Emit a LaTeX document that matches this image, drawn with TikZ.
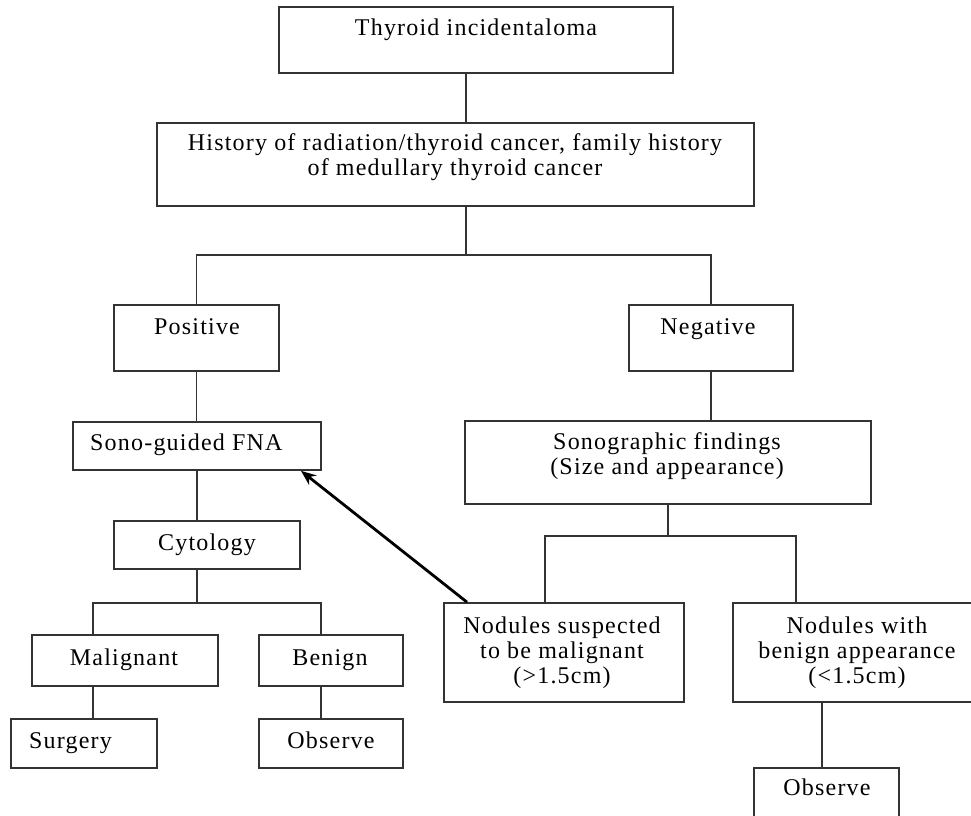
\documentclass[tikz,border=0pt]{standalone}
\usepackage{fontspec}
\setmainfont{Liberation Serif}[LetterSpace=5]
\usetikzlibrary{arrows.meta}
\newcommand\mybox[5]{\node[box, minimum width={#4bp-#2bp}, minimum height={#5bp-#3bp}] (#1) at ({(#2+#4)/2},{(#3+#5)/2}) {};}
\begin{document}
\begin{tikzpicture}[x=1bp,y=-1bp,
  box/.style={draw=black!80, line width=1.7bp, inner sep=0pt},
  txt/.style={inner sep=0pt, anchor=base, align=center, yshift=-2bp, font=\fontsize{24bp}{25bp}\selectfont},
  link/.style={draw=black!80, line width=1.7bp},
  arr/.style={draw=black, line width=2.8bp, -{Stealth[length=15bp,width=12bp]}}]
\useasboundingbox (0,0) rectangle (971,816);
\clip (0,0) rectangle (971,816);
% boxes
\mybox{thy}{279}{7}{673}{73}
\mybox{hist}{157}{123}{754}{206}
\mybox{pos}{114}{305}{279}{371}
\mybox{neg}{629}{305}{793}{371}
\mybox{fna}{73}{422}{321}{470}
\mybox{sono}{465}{421}{871}{504}
\mybox{cyto}{114}{521}{300}{569}
\mybox{mal}{32}{635}{218}{686}
\mybox{ben}{259}{635}{403}{686}
\mybox{surg}{11}{719}{157}{768}
\mybox{obsL}{259}{719}{403}{768}
\mybox{nodS}{444}{603}{684}{702}
\mybox{nodB}{733}{603}{980}{702}
\mybox{obsR}{754}{768}{899}{822}
% texts (multi-line nodes are placed at the baseline of their last line)
\node[txt] (thyT) at (476,34) {Thyroid incidentaloma};
\node[txt] (histT) at (455,173) {History of radiation/thyroid cancer, family history\\of medullary thyroid cancer};
\node[txt] (posT) at (197,332) {Positive};
\node[txt] (negT) at (708,332) {Negative};
\node[txt, anchor=base west] (fnaT) at (90,448) {Sono-guided FNA};
\node[txt] (sonoT) at (667,472) {Sonographic findings\\(Size and appearance)};
\node[txt] (cytoT) at (207,548) {Cytology};
\node[txt] (malT) at (124,663) {Malignant};
\node[txt] (benT) at (330,663) {Benign};
\node[txt, anchor=base west] (surgT) at (29,746) {Surgery};
\node[txt] (obsLT) at (331,746) {Observe};
\node[txt] (nodST) at (562,681) {Nodules suspected\\to be malignant\\(>1.5cm)};
\node[txt] (nodBT) at (857,681) {Nodules with\\benign appearance\\(<1.5cm)};
\node[txt] (obsRT) at (827,793) {Observe};
% connectors
\coordinate (c1) at (466,0);
\draw[link] (thy.south -| c1) -- (hist.north -| c1);
\coordinate (b1) at (466,255);
\draw[link] (hist.south -| b1) -- (b1);
\draw[link] (pos.north) |- (b1) -| (neg.north);
\draw[link] (pos.south) -- (pos.south |- fna.north);
\draw[link] (fna.south) -- (fna.south |- cyto.north);
\coordinate (b2) at (197,603);
\coordinate (b2l) at (93,603);
\coordinate (b2r) at (321,603);
\draw[link] (cyto.south -| b2) -- (b2);
\draw[link] (mal.north -| b2l) -- (b2l) -- (b2r) -- (ben.north -| b2r);
\draw[link] (mal.south -| b2l) -- (surg.north -| b2l);
\draw[link] (ben.south -| b2r) -- (obsL.north -| b2r);
\draw[link] (neg.south) -- (neg.south |- sono.north);
\coordinate (b3) at (668,536);
\coordinate (b3l) at (545,536);
\coordinate (b3r) at (796,536);
\draw[link] (sono.south) -- (b3);
\draw[link] (nodS.north -| b3l) -- (b3l) -- (b3r) -- (nodB.north -| b3r);
\coordinate (b4) at (822,0);
\draw[link] (nodB.south -| b4) -- (obsR.north -| b4);
\coordinate (a1) at (467,0);
\coordinate (a2) at (301,0);
\draw[arr] (nodS.north -| a1) -- (fna.south -| a2);
\end{tikzpicture}
\end{document}
